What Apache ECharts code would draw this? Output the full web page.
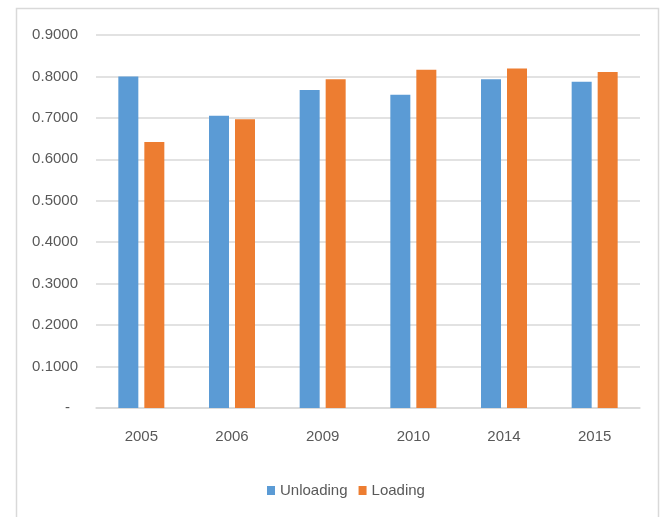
<!DOCTYPE html>
<html>
<head>
<meta charset="utf-8">
<script src="https://cdn.jsdelivr.net/npm/echarts@6/dist/echarts.min.js"></script>
<style>
  html, body { margin: 0; padding: 0; background: #fff; }
  #chart { width: 662px; height: 517px; }
</style>
</head>
<body>
<div id="chart"></div>
<script>
// Years on the category axis
const years = ['2005', '2006', '2009', '2010', '2014', '2015'];
// Ratios per year
const unloading = [0.800, 0.705, 0.767, 0.756, 0.793, 0.787];
const loading = [0.642, 0.697, 0.793, 0.816, 0.819, 0.811];
// Value axis range
const yMin = 0;
const yMax = 0.9;
const yStep = 0.1;

const textColor = '#595959';
const lineColor = '#d9d9d9';
const font = '"Liberation Sans", Arial, sans-serif';
const fontSize = 15;

const chart = echarts.init(document.getElementById('chart'), null, { renderer: 'canvas' });

chart.setOption({
  animation: false,
  backgroundColor: '#ffffff',
  textStyle: { fontFamily: font, color: textColor },
  graphic: [{
    type: 'rect',
    shape: { x: 16.5, y: 8.5, width: 642, height: 540 },
    style: { fill: 'none', stroke: lineColor, lineWidth: 1.5 },
    silent: true,
    z: -1
  }],
  grid: { left: 96, right: 22, top: 35, bottom: 109, containLabel: false },
  legend: {
    data: ['Unloading', 'Loading'],
    left: 262,
    top: 478,
    itemWidth: 8,
    itemHeight: 9,
    itemGap: 11,
    icon: 'rect',
    textStyle: { fontFamily: font, fontSize: fontSize, color: textColor }
  },
  xAxis: {
    type: 'category',
    data: years,
    axisLine: { show: true, lineStyle: { color: lineColor, width: 1.5 } },
    axisTick: { show: false },
    axisLabel: { fontFamily: font, fontSize: fontSize, color: textColor, margin: 21 }
  },
  yAxis: {
    type: 'value',
    min: yMin,
    max: yMax,
    interval: yStep,
    axisLine: { show: false },
    axisTick: { show: false },
    splitLine: { lineStyle: { color: lineColor, width: 1.5 } },
    axisLabel: {
      fontFamily: font,
      fontSize: fontSize,
      color: textColor,
      margin: 18,
      formatter: function (v) {
        return v === 0 ? '{dash|-}' : v.toFixed(4);
      },
      rich: {
        dash: { fontFamily: font, fontSize: fontSize, color: textColor, padding: [0, 8, 0, 0] }
      }
    }
  },
  series: [
    {
      name: 'Unloading',
      type: 'bar',
      data: unloading,
      barWidth: 20,
      barGap: '30%',
      itemStyle: { color: '#5b9bd5' }
    },
    {
      name: 'Loading',
      type: 'bar',
      data: loading,
      barWidth: 20,
      barGap: '30%',
      itemStyle: { color: '#ed7d31' }
    }
  ]
});
</script>
</body>
</html>
